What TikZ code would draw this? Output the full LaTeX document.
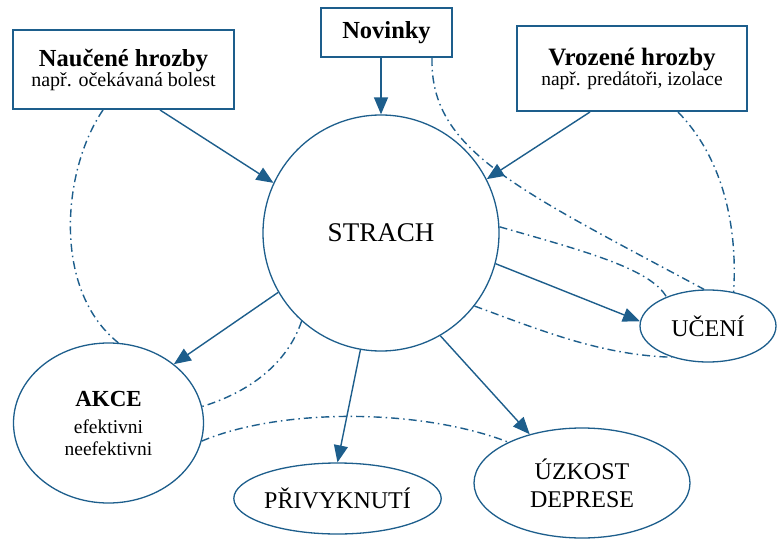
\documentclass[tikz,border=0pt]{standalone}
\usepackage{fontspec}
\setmainfont{Liberation Serif}
\usetikzlibrary{shapes.geometric,arrows.meta,calc}
\definecolor{myblue}{RGB}{29,94,140}
\begin{document}
\begin{tikzpicture}[x=1pt,y=-1pt,
  box/.style={rectangle, draw=myblue, line width=2pt, fill=white, inner sep=0pt, align=center},
  oval/.style={ellipse, draw=myblue, line width=1.3pt, inner sep=0pt, align=center},
  arr/.style={draw=myblue, line width=1.4pt, -{Triangle[length=17pt,width=14pt]}, color=myblue},
  dd/.style={draw=myblue, line width=1.4pt, dash pattern=on 8pt off 4pt on 1.5pt off 4pt}]
\useasboundingbox[fill=white] (0,0) rectangle (778,540);

% boxes
\node[box, minimum width=221pt, minimum height=79pt, font=\fontsize{20}{20}\selectfont] (nau) at (123.5,69.5)
  {{\fontsize{24.5}{24.5}\selectfont\bfseries Naučené hrozby}\\ např. očekávaná bolest};
\node[box, minimum width=131pt, minimum height=49pt, font=\fontsize{24.5}{24.5}\selectfont\bfseries] (nov) at (386.5,32.5) {Novinky};
\node[box, minimum width=230pt, minimum height=85pt, font=\fontsize{19.5}{20}\selectfont] (vro) at (632,68.5)
  {{\fontsize{25}{25}\selectfont\bfseries Vrozené hrozby}\\ např. predátoři, izolace};

% circle and ellipses
\node[circle, draw=myblue, line width=1.3pt, minimum size=236pt, inner sep=0pt, font=\fontsize{27}{27}\selectfont] (strach) at (381,233) {STRACH};
\node[oval, minimum width=190pt, minimum height=160pt, font=\fontsize{19.5}{22}\selectfont] (akce) at (108.5,423)
  {{\fontsize{23}{23}\selectfont\bfseries AKCE}\\[5pt] efektivni\\ neefektivni};
\node[oval, minimum width=189pt, minimum height=71pt, font=\fontsize{24}{24}\selectfont] (priv) at (337.5,498.5) {PŘIVYKNUTÍ};
\node[oval, minimum width=216pt, minimum height=110pt, font=\fontsize{24}{28}\selectfont] (uz) at (582,483) {ÚZKOST\\DEPRESE};
\node[oval, minimum width=136pt, minimum height=72pt, font=\fontsize{24}{24}\selectfont] (uc) at (708,326) {UČENÍ};

% dash-dot connectors
\draw[dd] ([xshift=-20.5pt]nau.south) .. controls (62,170) and (52,290) .. (akce.83);
\draw[dd] ([xshift=45.5pt]nov.south) .. controls (430,150) and (515,188) .. (uc.96);
\draw[dd] (strach.3) .. controls (580,250) and (650,268) .. (uc.145);
\draw[dd] ([xshift=46pt]vro.south) .. controls (720,155) and (738,220) .. (uc.53);
\draw[dd] (strach.322) .. controls (540,330) and (600,355) .. (uc.221);
\draw[dd] (strach.228) .. controls (285,370) and (240,395) .. (akce.10);
\draw[dd] (akce.349) .. controls (280,408) and (420,408) .. (uz.151);

% arrows
\draw[arr] ([xshift=36.5pt]nau.south) -- (strach.155);
\draw[arr] (nov.south -| strach.north) -- (strach.north);
\draw[arr] ([xshift=-42pt]vro.south) -- (strach.27);
\draw[arr] (strach.210) -- (akce.42);
\draw[arr] (strach.260) -- (priv.north);
\draw[arr] (strach.300) -- (uz.137);
\draw[arr] (strach.345) -- (uc.176);
\end{tikzpicture}
\end{document}
